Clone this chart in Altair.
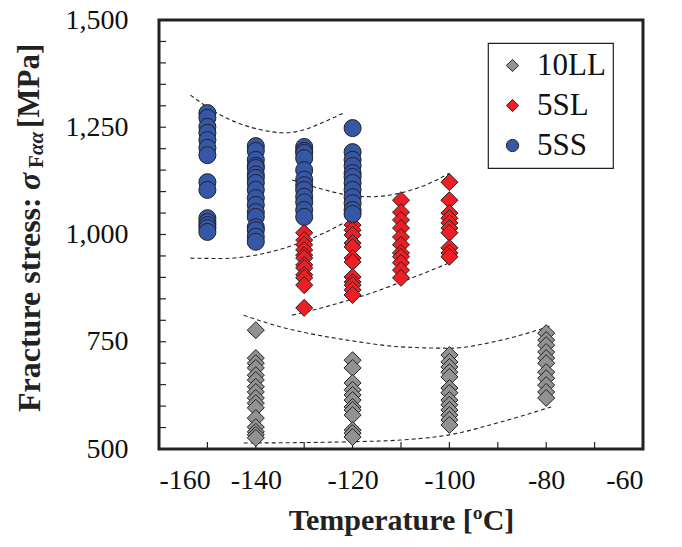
import altair as alt
import pandas as pd

# ---------------- data ----------------
series_names = ["10LL", "5SL", "5SS"]
series_colors = ["#929292", "#ec1f26", "#3656a6"]
series_shapes = ["diamond", "diamond", "circle"]

# 10LL (grey diamonds)
ll_temps = [-140, -120, -100, -80]
ll_vals = [
    [777, 712, 700, 689, 672, 661, 645, 633, 619, 607, 596, 572, 551, 540, 533, 526],
    [707, 689, 654, 638, 626, 614, 598, 591, 579, 544, 537, 528],
    [719, 703, 691, 679, 668, 642, 631, 614, 603, 591, 579, 568, 556],
    [770, 754, 742, 726, 712, 700, 679, 665, 649, 633, 619],
]
# 5SL (red diamonds)
sl_temps = [-130, -120, -110, -100]
sl_vals = [
    [1004, 987, 976, 964, 952, 945, 929, 922, 906, 899, 882, 829],
    [1022, 1010, 999, 980, 971, 945, 936, 901, 889, 882, 871, 859],
    [1080, 1052, 1034, 1015, 994, 976, 957, 948, 934, 917, 899],
    [1122, 1080, 1050, 1038, 1027, 1015, 1004, 969, 957, 948],
]
# 5SS (blue circles)
ss_temps = [-150, -140, -130, -120]
ss_vals = [
    [1283, 1272, 1251, 1237, 1220, 1202, 1185, 1122, 1104, 1038, 1029, 1022, 1015, 1006],
    [1206, 1195, 1174, 1160, 1155, 1140, 1132, 1120, 1104, 1085, 1069, 1052, 1041, 1017, 1010, 995, 983],
    [1204, 1195, 1190, 1178, 1150, 1128, 1115, 1104, 1088, 1075, 1057, 1041],
    [1248, 1192, 1174, 1160, 1143, 1134, 1120, 1104, 1087, 1073, 1057, 1048],
]

# dashed envelope curves
ss_upper_t = [-153.5, -148, -143, -138, -134, -130, -126, -121.5]
ss_upper_v = [1325, 1283, 1257, 1242, 1237, 1244, 1262, 1285]
ss_lower_t = [-153.5, -147, -141, -136, -131, -126, -121.5]
ss_lower_v = [945, 944, 950, 962, 980, 1003, 1029]
sl_upper_t = [-132.5, -127, -122, -116, -110, -105, -100]
sl_upper_v = [1127, 1108, 1094, 1088, 1097, 1115, 1143]
sl_lower_t = [-132.5, -127, -122, -116, -110, -105, -100]
sl_lower_v = [812, 827, 843, 864, 889, 911, 934]
ll_upper_t = [-142.5, -135, -127, -120, -110, -100, -90, -79]
ll_upper_v = [812, 785, 765, 752, 738, 735, 752, 787]
ll_lower_t = [-142.5, -130, -120, -110, -100, -90, -79]
ll_lower_v = [514, 515, 517, 521, 533, 561, 598]

x_ticks = [-160, -140, -120, -100, -80, -60]
y_ticks = [500, 750, 1000, 1250, 1500]
x_minor = [-150, -140, -130, -120, -110, -100, -90, -80, -70]
y_minor = [550, 600, 650, 700, 750, 800, 850, 900, 950, 1000, 1050, 1100,
           1150, 1200, 1250, 1300, 1350, 1400, 1450]

# ---------------- tables ----------------
rows = []
for name, temps, vals in [("10LL", ll_temps, ll_vals), ("5SL", sl_temps, sl_vals), ("5SS", ss_temps, ss_vals)]:
    for t, vs in zip(temps, vals):
        for v in vs:
            rows.append({"series": name, "temp": t, "stress": v})
pts = pd.DataFrame(rows)
pts["order"] = pts["series"].map({"10LL": 0, "5SL": 1, "5SS": 2})

crows = []
for cid, ts, vs in [("ssu", ss_upper_t, ss_upper_v), ("ssl", ss_lower_t, ss_lower_v),
                    ("slu", sl_upper_t, sl_upper_v), ("sll", sl_lower_t, sl_lower_v),
                    ("llu", ll_upper_t, ll_upper_v), ("lll", ll_lower_t, ll_lower_v)]:
    for t, v in zip(ts, vs):
        crows.append({"curve": cid, "temp": t, "stress": v})
curves = pd.DataFrame(crows)

W, H = 484, 429
FONT = "Liberation Serif"

xscale = alt.Scale(domain=[-160, -60], nice=False)
yscale = alt.Scale(domain=[500, 1500], nice=False)

x_axis = alt.Axis(values=x_ticks, format="d", labelExpr="replace(datum.label, '−', '-')",
                  title="Temperature [ºC]", labelPadding=17, titlePadding=11,
                  domain=False, ticks=False, grid=False,
                  labelFont=FONT, labelFontSize=28, labelColor="#111",
                  titleFont=FONT, titleFontSize=30, titleFontWeight="bold", titleColor="#222")
y_axis = alt.Axis(values=y_ticks, format=",.0f", title=None, labelPadding=31,
                  domain=False, ticks=False, grid=False,
                  labelFont=FONT, labelFontSize=28, labelColor="#111")


def X(field):
    return alt.X(field, scale=xscale, axis=x_axis)


def Y(field):
    return alt.Y(field, scale=yscale, axis=y_axis)


curve_layer = alt.Chart(curves).mark_line(
    color="#222", strokeWidth=1.1, strokeDash=[4, 3], interpolate="monotone"
).encode(x=X("temp:Q"), y=Y("stress:Q"), detail="curve:N")

legend = alt.Legend(
    title=None, orient="none", legendX=329, legendY=23,
    strokeColor="#222", fillColor="white",
    padding=7, labelFont=FONT, labelFontSize=31, labelColor="#111",
    labelExpr="datum.label + '   '",
    symbolSize=150, symbolStrokeColor="#222", symbolStrokeWidth=1,
    symbolOffset=2, rowPadding=8, labelOffset=9,
)

points = alt.Chart(pts).mark_point(
    filled=True, size=290, stroke="#222", strokeWidth=1, opacity=1
).encode(
    x=X("temp:Q"),
    y=Y("stress:Q"),
    color=alt.Color("series:N", scale=alt.Scale(domain=series_names, range=series_colors), legend=legend),
    shape=alt.Shape("series:N", scale=alt.Scale(domain=series_names, range=series_shapes), legend=legend),
    order="order:Q",
)

xt = alt.Chart(pd.DataFrame({"temp": x_minor})).mark_rule(color="#222", strokeWidth=1.2).encode(
    x=X("temp:Q"), y=alt.value(H), y2=alt.value(H - 7))
yt = alt.Chart(pd.DataFrame({"stress": y_minor})).mark_rule(color="#222", strokeWidth=1.2).encode(
    y=Y("stress:Q"), x=alt.value(0), x2=alt.value(7))

# y axis title built from pieces (subscript)
title_x = -129
tpieces = [
    ("Fracture stress:", 392, 0, 32, "bold", "normal"),
    ("σ", 170, 0, 32, "bold", "italic"),
    ("F", 148, 7, 21, "bold", "normal"),
    ("αα", 135, 7, 21, "bold", "italic"),
    ("[MPa]", 108, 0, 31, "bold", "normal"),
]
tlayers = []
for txt, yy, dx, fs, fw, fst in tpieces:
    tlayers.append(
        alt.Chart(pd.DataFrame({"t": [txt]})).mark_text(
            angle=270, align="left", baseline="middle", font=FONT, fontSize=fs,
            fontWeight=fw, fontStyle=fst, color="#222"
        ).encode(text="t:N", x=alt.value(title_x + dx), y=alt.value(yy))
    )

chart = alt.layer(curve_layer, xt, yt, points, *tlayers).properties(
    width=W, height=H,
    background="white",
    padding={"left": 151, "top": 12, "right": 31, "bottom": 90},
    autosize=alt.AutoSizeParams(type="none"),
).configure_view(
    stroke="#222", strokeWidth=3
).configure_legend(
    strokeWidth=1.2
)

chart.save("out.html", embed_options={"renderer": "svg", "actions": False})
